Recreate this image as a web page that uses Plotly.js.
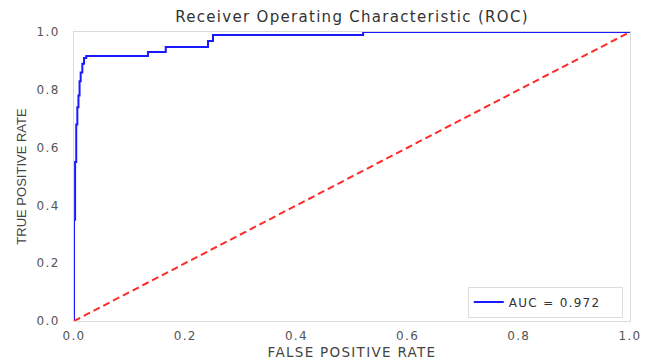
<!DOCTYPE html>
<html>
<head>
<meta charset="utf-8">
<script src="https://cdn.plot.ly/plotly-3.0.1.min.js"></script>
<style>
html,body{margin:0;padding:0;background:#fff;}
#chart{width:653px;height:362px;}
text{letter-spacing:1.3px;}
text.ytitle{letter-spacing:0;}
</style>
</head>
<body>
<div id="chart"></div>
<script>
// ROC curve points (false positive rate, true positive rate)
const fpr = [0, 0, 0.002, 0.004, 0.006, 0.008, 0.010, 0.012, 0.015, 0.018, 0.022, 0.133, 0.165, 0.241, 0.250, 0.520, 1.0];
const tpr = [0, 0.35, 0.55, 0.68, 0.74, 0.78, 0.83, 0.86, 0.89, 0.91, 0.917, 0.931, 0.948, 0.969, 0.990, 1.0, 1.0];
const chanceX = [0, 1];
const chanceY = [0, 1];
const aucLabel = "AUC = 0.972";
const tickVals = [0, 0.2, 0.4, 0.6, 0.8, 1.0];
const tickText = ["0.0", "0.2", "0.4", "0.6", "0.8", "1.0"];

const wide = "DejaVu Sans, Verdana, sans-serif";
const plain = "Liberation Sans, Arial, sans-serif";

const traces = [
  {x: fpr, y: tpr, type: "scatter", mode: "lines", name: aucLabel,
   line: {color: "#1a1aff", width: 2, shape: "hv"}},
  {x: chanceX, y: chanceY, type: "scatter", mode: "lines", showlegend: false,
   line: {color: "#ff2a2a", width: 2, dash: "7px,4px"}}
];

const axisCommon = {
  range: [0, 1], tickvals: tickVals, ticktext: tickText,
  showgrid: false, zeroline: false, showline: true, mirror: true,
  linecolor: "#dadada", linewidth: 1, ticks: "",
  tickfont: {family: wide, size: 12, color: "#555"},
  fixedrange: true
};

const layout = {
  width: 653, height: 362,
  margin: {l: 74, r: 23, t: 32, b: 41},
  paper_bgcolor: "#fff", plot_bgcolor: "#fff",
  font: {family: wide, color: "#333"},
  title: {text: "Receiver Operating Characteristic (ROC)", xref: "paper", x: 0.5, xanchor: "center",
          yref: "container", y: 0.953, yanchor: "middle",
          font: {family: wide, size: 15, color: "#333"}},
  xaxis: Object.assign({}, axisCommon, {ticklabelstandoff: 4,
          title: {text: "FALSE POSITIVE RATE", standoff: 5, font: {family: wide, size: 13.5, color: "#444"}}}),
  yaxis: Object.assign({}, axisCommon, {ticklabelstandoff: 11,
          title: {text: "TRUE POSITIVE RATE", standoff: 7, font: {family: plain, size: 13, color: "#444"}}}),
  showlegend: true,
  legend: {orientation: "h", entrywidth: 108, entrywidthmode: "pixels",
           x: 0.987, xanchor: "right", y: 0.012, yanchor: "bottom",
           bgcolor: "#fff", bordercolor: "#dcdcdc", borderwidth: 1,
           font: {family: wide, size: 12, color: "#333"}}
};

Plotly.newPlot("chart", traces, layout, {displayModeBar: false, staticPlot: true});
</script>
</body>
</html>
